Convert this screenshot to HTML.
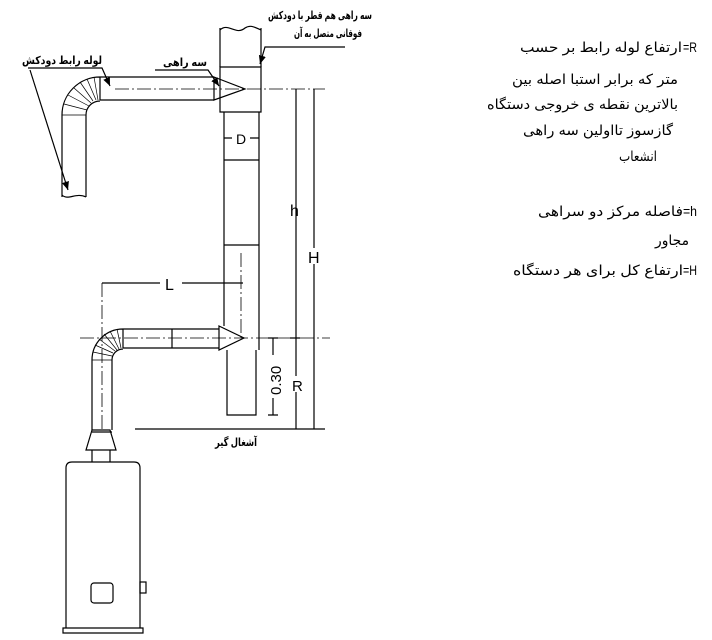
<!DOCTYPE html>
<html><head><meta charset="utf-8"><style>
body{margin:0;background:#fff;width:712px;height:640px;overflow:hidden}
svg{position:absolute;left:0;top:0}
text{font-family:"Liberation Sans","DejaVu Sans",sans-serif;fill:#000}
.fa{font-size:11px;font-weight:bold}
.rt{font-size:14px}
</style></head><body>
<svg width="712" height="640" viewBox="0 0 712 640" fill="none" stroke="#000" stroke-width="1.2">
<defs><marker id="a" markerWidth="8" markerHeight="8" refX="7" refY="3" orient="auto"><path d="M0,0L7,3L0,6z" fill="#000" stroke="none"/></marker></defs>
<path d="M220,28V67M261,28V67"/>
<path d="M220,30C228,22 236,36 245,28C251,24 256,28 261,30"/>
<path d="M220,67H261V112H220z"/>
<path d="M214,77L245,89L214,100z"/>
<path d="M224,112V326M259,112V350M224,160H259M224,245H259"/>
<path d="M224,138H232M250,138H259"/>
<text x="236" y="144" style="font-size:14px" stroke="none">D</text>
<path d="M100,77H214M100,100H214"/>
<path d="M62,197V115A38,38 0 0 1 100,77M86,197V115A14,14 0 0 1 100,101M100,77V100"/>
<g stroke-width="0.7">
<path d="M62,115H86M64,104L87,110M68,95L89,106M74,88L91,103M80,82L93,101M87,79L96,100M94,77L98,100"/>
</g>
<path d="M62,195C68,201 76,192 86,197"/>
<path d="M115,89H325" stroke-dasharray="14,3,2,3" stroke-width="0.8"/>
<path d="M80,338H330" stroke-dasharray="14,3,2,3" stroke-width="0.8"/>
<path d="M102,283V430" stroke-dasharray="14,3,2,3" stroke-width="0.8"/>
<path d="M241,253V338" stroke-dasharray="14,3,2,3" stroke-width="0.8"/>
<path d="M296,89V429M314,89V429M290,338H300M135,429H325"/>
<text x="290" y="216" style="font-size:16px" stroke="none">h</text>
<rect x="308" y="248" width="12" height="16" fill="#fff" stroke="none"/>
<text x="308" y="263" style="font-size:16px" stroke="none">H</text>
<rect x="290" y="376" width="12" height="16" fill="#fff" stroke="none"/>
<text x="292" y="391" style="font-size:15px" stroke="none">R</text>
<path d="M102,283H160M182,283H243"/>
<text x="165" y="290" style="font-size:16px" stroke="none">L</text>
<path d="M219,326L244,338L219,350z"/>
<path d="M227,350V415H256V350"/>
<path d="M123,329H219M123,348H219M172,329V348"/>
<path d="M92,430V360A31,31 0 0 1 123,329M112,430V360A11,11 0 0 1 123,349M123,329V348"/>
<g stroke-width="0.7">
<path d="M92,360H112M93,352L112,356M95,345L113,353M99,339L115,351M104,334L117,350M110,331L119,349M117,329L121,348"/>
</g>
<path d="M273,338V355M273,398V415M268,338H278M268,415H278"/>
<text transform="translate(281,395) rotate(-90)" style="font-size:15px" stroke="none">0.30</text>
<path d="M92,430L86,450H116L110,430z M92,432H112"/>
<path d="M92,450V462M110,450V462"/>
<path d="M66,628V468Q66,462 72,462H134Q140,462 140,468V628"/>
<path d="M63,628H143V633H63z"/>
<rect x="91" y="583" width="22" height="20" rx="3"/>
<rect x="140" y="582" width="6" height="11"/>
<path d="M28,68H102L110,86" marker-end="url(#a)"/>
<path d="M30,70L68,190" marker-end="url(#a)"/>
<path d="M155,70H208L219,86" marker-end="url(#a)"/>
<path d="M345,47H265L260,64" marker-end="url(#a)"/>
<g stroke="none">
<text class="fa" x="22" y="64" textLength="80" lengthAdjust="spacingAndGlyphs">لوله رابط دودکش</text>
<text class="fa" x="163" y="66" textLength="44" lengthAdjust="spacingAndGlyphs">سه راهی</text>
<text class="fa" x="268" y="19" textLength="104" lengthAdjust="spacingAndGlyphs">سه راهی هم قطر با دودکش</text>
<text class="fa" x="294" y="37" textLength="68" lengthAdjust="spacingAndGlyphs">فوقانی متصل به آن</text>
<text class="fa" x="215" y="446" textLength="42" lengthAdjust="spacingAndGlyphs">آشغال گیر</text>
<text class="rt" x="520" y="52" textLength="162" lengthAdjust="spacingAndGlyphs">ارتفاع لوله رابط بر حسب</text>
<text class="rt" x="683" y="52" textLength="14" lengthAdjust="spacingAndGlyphs">=R</text>
<text class="rt" x="512" y="84" textLength="166" lengthAdjust="spacingAndGlyphs">متر که برابر استبا اصله بین</text>
<text class="rt" x="487" y="109" textLength="191" lengthAdjust="spacingAndGlyphs">بالاترین نقطه ی خروجی دستگاه</text>
<text class="rt" x="523" y="135" textLength="150" lengthAdjust="spacingAndGlyphs">گازسوز تااولین سه راهی</text>
<text class="rt" x="619" y="161" textLength="38" lengthAdjust="spacingAndGlyphs">انشعاب</text>
<text class="rt" x="538" y="216" textLength="145" lengthAdjust="spacingAndGlyphs">فاصله مرکز دو سراهی</text>
<text class="rt" x="683" y="216" textLength="14" lengthAdjust="spacingAndGlyphs">=h</text>
<text class="rt" x="655" y="245" textLength="34" lengthAdjust="spacingAndGlyphs">مجاور</text>
<text class="rt" x="513" y="275" textLength="170" lengthAdjust="spacingAndGlyphs">ارتفاع کل برای هر دستگاه</text>
<text class="rt" x="683" y="275" textLength="14" lengthAdjust="spacingAndGlyphs">=H</text>
</g>
</svg>
</body></html>
